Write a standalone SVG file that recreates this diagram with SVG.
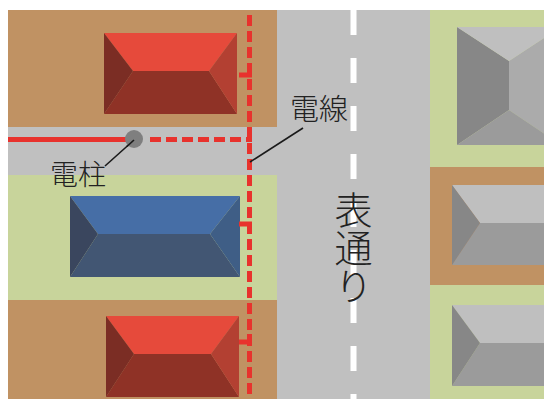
<svg xmlns="http://www.w3.org/2000/svg" width="544" height="399" viewBox="0 0 544 399">
  <style>
    .lot-brown { fill: #C09263; }
    .lot-green { fill: #C8D49B; }
    .road { fill: #C0C0C0; }
    .red-a { fill: #E64A3B; } .red-b { fill: #8F3226; } .red-c { fill: #7B2D24; } .red-d { fill: #B34032; }
    .blue-a { fill: #466EA6; } .blue-b { fill: #425673; } .blue-c { fill: #3A465E; } .blue-d { fill: #3F5E86; }
    .gray-a { fill: #BFBFBF; } .gray-b { fill: #9B9B9B; } .gray-c { fill: #878787; } .gray-d { fill: #ABABAB; }
    .wire { fill: none; stroke: #E8322D; stroke-width: 5; }
    .wire-dash { fill: none; stroke: #E8322D; stroke-width: 5; stroke-dasharray: 11 5; }
    .leader { stroke: #1A1A1A; stroke-width: 1.6; fill: none; }
    .label { font-family: "Noto Sans CJK JP", "Noto Sans", sans-serif; font-weight: 300; fill: #222222; }
  </style>
  <rect width="544" height="399" fill="#FFFFFF"/>

  <!-- ground: lots and roads -->
  <g id="ground">
    <rect class="lot-brown" x="8" y="10" width="269" height="117"/>
    <rect class="road" x="8" y="127" width="269" height="48"/>
    <rect class="lot-green" x="8" y="175" width="269" height="125"/>
    <rect class="lot-brown" x="8" y="300" width="269" height="99"/>
    <rect class="road" x="277" y="10" width="153" height="389"/>
    <rect class="lot-green" x="430" y="10" width="114" height="157"/>
    <rect class="lot-brown" x="430" y="167" width="114" height="118"/>
    <rect class="lot-green" x="430" y="285" width="114" height="114"/>
    <!-- centre line -->
    <line x1="353.5" y1="10" x2="353.5" y2="399" stroke="#FFFFFF" stroke-width="6" stroke-dasharray="25 23"/>
  </g>

  <!-- houses -->
  <g id="house-red-1">
    <polygon class="red-a" points="104,33 237,33 209,71 133,71"/>
    <polygon class="red-b" points="133,71 209,71 237,114 104,114"/>
    <polygon class="red-c" points="104,33 133,71 104,114"/>
    <polygon class="red-d" points="237,33 209,71 237,114"/>
  </g>
  <g id="house-blue">
    <polygon class="blue-a" points="70,196 240,196 210,234 98,234"/>
    <polygon class="blue-b" points="98,234 210,234 240,277 70,277"/>
    <polygon class="blue-c" points="70,196 98,234 70,277"/>
    <polygon class="blue-d" points="240,196 210,234 240,277"/>
  </g>
  <g id="house-red-2">
    <polygon class="red-a" points="106,316 239,316 211,354 134,354"/>
    <polygon class="red-b" points="134,354 211,354 239,397 106,397"/>
    <polygon class="red-c" points="106,316 134,354 106,397"/>
    <polygon class="red-d" points="239,316 211,354 239,397"/>
  </g>
  <g id="house-gray-1">
    <polygon class="gray-c" points="457,27 509,61 509,110 457,145"/>
    <polygon class="gray-d" points="561,27 509,61 509,110 561,145"/>
    <polygon class="gray-a" points="457,27 561,27 509,61"/>
    <polygon class="gray-b" points="457,145 561,145 509,110"/>
  </g>
  <g id="house-gray-2">
    <polygon class="gray-a" points="452,185 560,185 560,223 480,223"/>
    <polygon class="gray-b" points="480,223 560,223 560,265 452,265"/>
    <polygon class="gray-c" points="452,185 480,223 452,265"/>
  </g>
  <g id="house-gray-3">
    <polygon class="gray-a" points="452,305 560,305 560,343 480,343"/>
    <polygon class="gray-b" points="480,343 560,343 560,386 452,386"/>
    <polygon class="gray-c" points="452,305 480,343 452,386"/>
  </g>

  <!-- power lines -->
  <g id="connectors">
    <line class="wire" x1="8" y1="139.5" x2="134" y2="139.5"/>
    <line class="wire-dash" x1="150" y1="139.5" x2="252" y2="139.5"/>
    <line class="wire-dash" x1="249.5" y1="10" x2="249.5" y2="399" stroke-dashoffset="11"/>
    <polyline class="wire" points="239,75 249.5,75 249.5,67"/>
    <polyline class="wire" points="239,224 249.5,224 249.5,233"/>
    <polyline class="wire" points="239,342 249.5,342 249.5,334"/>
    <line class="leader" x1="134" y1="140" x2="105" y2="166"/>
    <line class="leader" x1="303" y1="128" x2="250" y2="162"/>
  </g>

  <g id="pole">
    <circle cx="134" cy="139" r="9" fill="#7F7F7F"/>
    <line class="leader" x1="134" y1="140" x2="127" y2="146.3"/>
  </g>

  <!-- labels -->
  <g id="label-pole"><text class="label" x="50" y="185" font-size="28">電柱</text></g>
  <g id="label-wire"><text class="label" x="290" y="120" font-size="29">電線</text></g>
  <g id="label-street">
    <text class="label" x="353.5" y="191" font-size="38" writing-mode="vertical-rl">表通り</text>
  </g>
</svg>
